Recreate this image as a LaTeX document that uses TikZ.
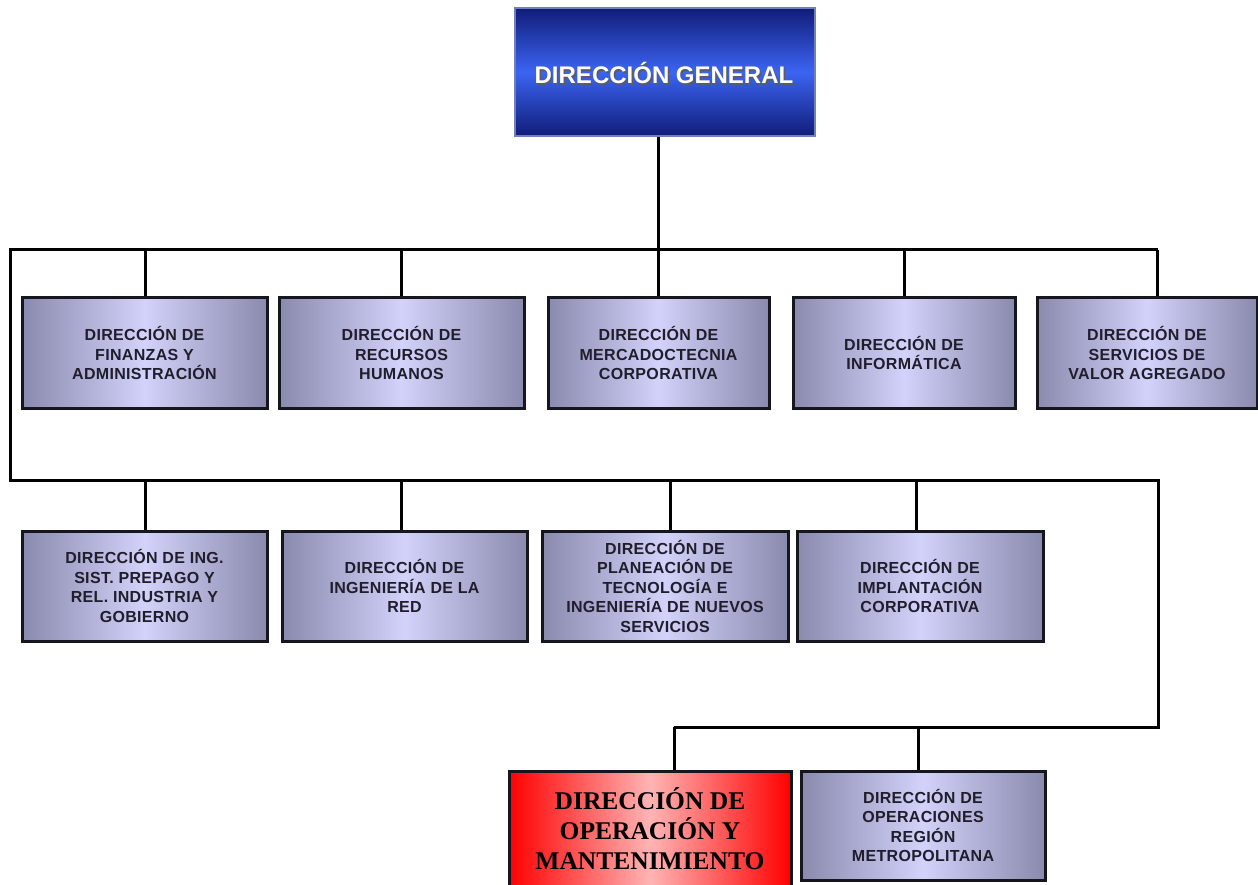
\documentclass[tikz,border=0pt]{standalone}
\usepackage{fontspec}
\setmainfont{Liberation Sans}
\newfontfamily\boxfont{Liberation Sans}[LetterSpace=2]
\newfontfamily\redfont{Liberation Serif}
\definecolor{boxline}{HTML}{16161F}
\definecolor{grayedge}{HTML}{8A8AAE}
\definecolor{graymid}{HTML}{D2D2FA}
\definecolor{boxtext}{HTML}{1E1E2C}
\definecolor{navy}{HTML}{101C78}
\definecolor{brightblue}{HTML}{3C64F2}
\definecolor{titleline}{HTML}{7080B8}
\definecolor{titleshade}{HTML}{5A5A6A}
\definecolor{redpink}{HTML}{FFB4B4}
\begin{document}
\begin{tikzpicture}[x=1pt,y=-1pt,
  wire/.style={draw=black,line width=3pt,line join=miter},
  unit/.style={draw=boxline,line width=3pt,
    left color=grayedge,right color=grayedge,middle color=graymid,
    inner sep=0pt,align=center,text=boxtext,
    font=\boxfont\bfseries\fontsize{16}{19.5}\selectfont},
  topbox/.style={draw=titleline,line width=1.2pt,
    top color=navy,bottom color=navy,middle color=brightblue,inner sep=0pt},
  redbox/.style={draw=boxline,line width=3pt,
    left color=red,right color=red,middle color=redpink,
    inner sep=0pt,align=center,text=black,
    font=\redfont\bfseries\fontsize{25.5}{30}\selectfont},
  titletext/.style={font=\bfseries\fontsize{24}{28}\selectfont,inner sep=0pt}]
\clip (0,0) rectangle (1258,885);
\fill[white] (0,0) rectangle (1258,885);

% top of the chart
\node[topbox,minimum width=300,minimum height=128] (dg) at (665,72) {};
\node[titletext,text=titleshade] (dgshadow) at (665.5,74.5) {DIRECCIÓN GENERAL};
\node[titletext,text=white] (dgtext) at (664,73) {DIRECCIÓN GENERAL};

% first row of directorates
\node[unit,minimum width=245,minimum height=110] (fin) at (144.5,353)
  {DIRECCIÓN DE\\FINANZAS Y\\ADMINISTRACIÓN};
\node[unit,minimum width=245,minimum height=110] (rh) at (401.5,353)
  {DIRECCIÓN DE\\RECURSOS\\HUMANOS};
\node[unit,minimum width=221,minimum height=110] (mkt) at (658.5,353)
  {DIRECCIÓN DE\\MERCADOCTECNIA\\CORPORATIVA};
\node[unit,minimum width=222,minimum height=110] (inf) at (904,353)
  {DIRECCIÓN DE\\INFORMÁTICA};
\node[unit,minimum width=220,minimum height=110] (sva) at (1147,353)
  {DIRECCIÓN DE\\SERVICIOS DE\\VALOR AGREGADO};

% second row of directorates
\node[unit,minimum width=245,minimum height=110] (ing) at (144.5,586)
  {DIRECCIÓN DE ING.\\SIST. PREPAGO Y\\REL. INDUSTRIA Y\\GOBIERNO};
\node[unit,minimum width=245,minimum height=110] (red) at (404.5,586)
  {DIRECCIÓN DE\\INGENIERÍA DE LA\\RED};
\node[unit,minimum width=246,minimum height=110] (plan) at (665,586)
  {DIRECCIÓN DE\\PLANEACIÓN DE\\TECNOLOGÍA E\\INGENIERÍA DE NUEVOS\\SERVICIOS};
\node[unit,minimum width=246,minimum height=110] (impl) at (920,586)
  {DIRECCIÓN DE\\IMPLANTACIÓN\\CORPORATIVA};

% third row
\node[redbox,minimum width=282,minimum height=116] (oym) at (650,829)
  {DIRECCIÓN DE\\OPERACIÓN Y\\MANTENIMIENTO};
\node[unit,minimum width=244,minimum height=109] (metro) at (923,825.5)
  {DIRECCIÓN DE\\OPERACIONES\\REGIÓN\\METROPOLITANA};

% bus junctions
\coordinate (dgdrop) at (658,250);
\coordinate (busAl) at (10,250);
\coordinate (busAr) at (1158,250);
\coordinate (busBl) at (10,480);
\coordinate (busBr) at (1158,480);
\coordinate (busCr) at (1158,727);
\coordinate (busCl) at (674,727);
\coordinate (a1) at (145,250);
\coordinate (a2) at (401,250);
\coordinate (a4) at (904,250);
\coordinate (a5) at (1157,250);
\coordinate (b1) at (145,480);
\coordinate (b2) at (401,480);
\coordinate (b3) at (670,480);
\coordinate (b4) at (916,480);
\coordinate (c2) at (918,727);

% connectors
\draw[wire] (dg.south -| dgdrop) -- (dgdrop);
\draw[wire] (busAr) -- (busAl) -- (busBl) -- (busBr) -- (busCr) -- (busCl);
\draw[wire] (a1) -- (a1 |- fin.north);
\draw[wire] (a2) -- (a2 |- rh.north);
\draw[wire] (dgdrop) -- (dgdrop |- mkt.north);
\draw[wire] (a4) -- (a4 |- inf.north);
\draw[wire] (a5) -- (a5 |- sva.north);
\draw[wire] (b1) -- (b1 |- ing.north);
\draw[wire] (b2) -- (b2 |- red.north);
\draw[wire] (b3) -- (b3 |- plan.north);
\draw[wire] (b4) -- (b4 |- impl.north);
\draw[wire] (busCl) -- (busCl |- oym.north);
\draw[wire] (c2) -- (c2 |- metro.north);
\end{tikzpicture}
\end{document}
